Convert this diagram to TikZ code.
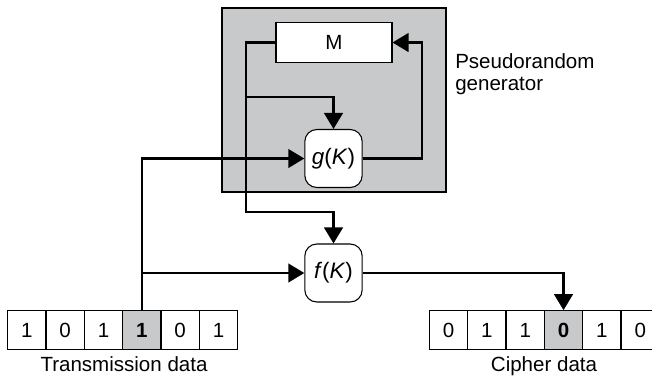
\documentclass[tikz,border=0pt]{standalone}
\usepackage{fontspec}
\setmainfont{Liberation Sans}
\usetikzlibrary{arrows.meta}
\definecolor{panelgray}{RGB}{200,201,203}

\begin{document}
\begin{tikzpicture}[x=0.75pt,y=-0.75pt,
  font=\fontsize{15.4}{16.5}\selectfont,
  wire/.style={line width=1.7pt},
  flow/.style={wire, -{Triangle[length=12pt,width=14pt]}},
  cell/.style={draw, line width=0.8pt, minimum width=28.75pt, minimum height=28.95pt, inner sep=0pt},
  keycell/.style={cell, fill=panelgray, font=\fontsize{15.4}{16.5}\selectfont\bfseries},
  fbox/.style={draw, line width=0.8pt, fill=white, rounded corners=9pt, minimum width=43pt, minimum height=43.5pt, inner sep=0pt, font=\fontsize{16.8}{18}\selectfont}]
\useasboundingbox (0,0) rectangle (652,380);
% generator block
\node[draw, line width=0.8pt, fill=panelgray, minimum width=168pt, minimum height=138pt, inner sep=0pt] (gen) at (334,100) {};
\node[anchor=base west, align=left, inner sep=0pt] (genlabel) at (455,90) {Pseudorandom\\generator};
\node[draw, line width=0.8pt, fill=white, minimum width=87pt, minimum height=30pt, inner sep=0pt] (m) at (334,42.5) {M};
\node[fbox] (g) at (333.5,158.5) {\textit{g}(\textit{K})};
\node[fbox] (f) at (333.5,273) {\textit{f}(\textit{K})};
% transmission data
\node[cell] (t1) at (26.8,330) {1};
\node[cell] (t2) at (65.2,330) {0};
\node[cell] (t3) at (103.5,330) {1};
\node[keycell] (t4) at (141.8,330) {1};
\node[cell] (t5) at (180.2,330) {0};
\node[cell] (t6) at (218.5,330) {1};
\node[anchor=base] (tlabel) at (124,371) {Transmission data};
% cipher data
\node[cell] (c1) at (448.5,330) {0};
\node[cell] (c2) at (486.8,330) {1};
\node[cell] (c3) at (525.2,330) {1};
\node[keycell] (c4) at (563.5,330) {0};
\node[cell] (c5) at (601.8,330) {1};
\node[cell] (c6) at (640.2,330) {0};
\node[anchor=base] (clabel) at (544,371) {Cipher data};
% connectors
\coordinate (split) at (246,97);
\coordinate (fbend) at (246,212);
\coordinate (loop) at (422,158.5);
\draw[flow] (m.west) -| (fbend) -| (f.north);
\draw[flow] (split) -| (g.north);
\draw[flow] (g.east) -- (loop) |- (m.east);
\draw[flow] (t4.north) |- (g.west);
\draw[flow] (t4.north |- f.west) -- (f.west);
\draw[flow] (f.east) -| (c4.north);
\end{tikzpicture}
\end{document}
